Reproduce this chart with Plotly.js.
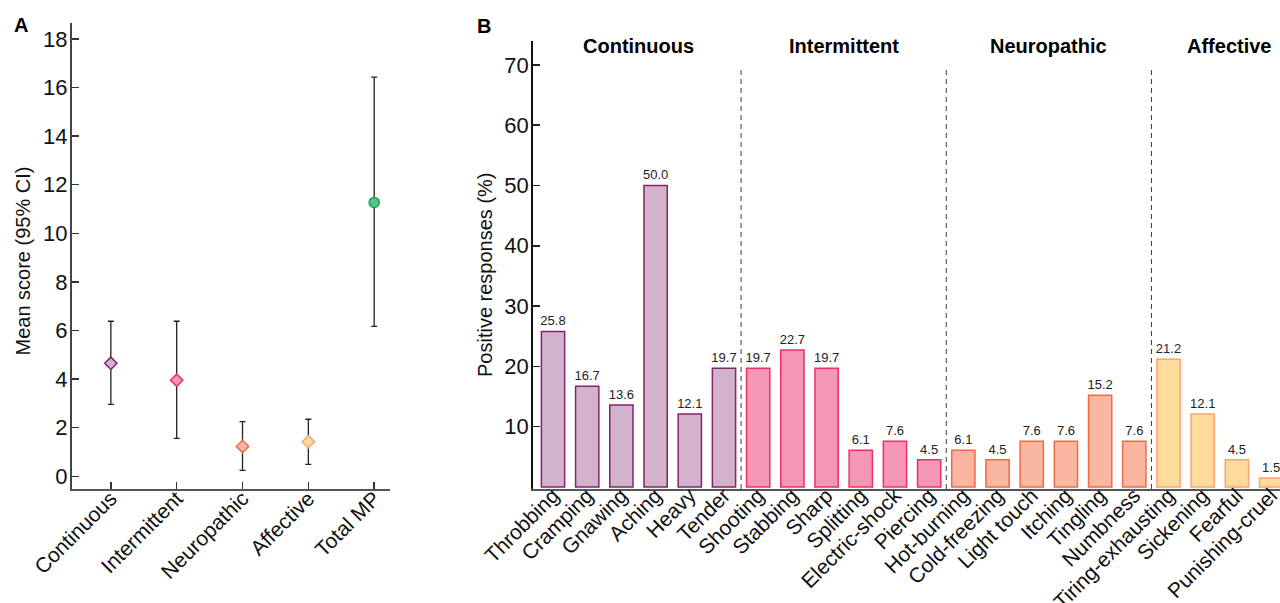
<!DOCTYPE html>
<html>
<head>
<meta charset="utf-8">
<script src="https://cdn.plot.ly/plotly-3.0.1.min.js"></script>
<style>html,body{margin:0;padding:0;background:#fff;}#chart{width:1280px;height:603px;}</style>
</head>
<body>
<div id="chart"></div>
<script>
// Panel A data
const scoreCategories = ["Continuous", "Intermittent", "Neuropathic", "Affective", "Total MP"];
const scoreMeans = [4.65, 3.95, 1.23, 1.42, 11.27];
const scoreUpper = [6.38, 6.38, 2.25, 2.35, 16.42];
const scoreLower = [2.96, 1.56, 0.25, 0.49, 6.17];
const scoreTicks = [0, 2, 4, 6, 8, 10, 12, 14, 16, 18];

// Panel B data
const descriptors = ["Throbbing", "Cramping", "Gnawing", "Aching", "Heavy", "Tender",
  "Shooting", "Stabbing", "Sharp", "Splitting", "Electric-shock", "Piercing",
  "Hot-burning", "Cold-freezing", "Light touch", "Itching", "Tingling", "Numbness",
  "Tiring-exhausting", "Sickening", "Fearful", "Punishing-cruel"];
const descriptorGroup = ["Continuous","Continuous","Continuous","Continuous","Continuous","Continuous",
  "Intermittent","Intermittent","Intermittent","Intermittent","Intermittent","Intermittent",
  "Neuropathic","Neuropathic","Neuropathic","Neuropathic","Neuropathic","Neuropathic",
  "Affective","Affective","Affective","Affective"];
const positiveResponses = [25.8, 16.7, 13.6, 50.0, 12.1, 19.7,
  19.7, 22.7, 19.7, 6.1, 7.6, 4.5,
  6.1, 4.5, 7.6, 7.6, 15.2, 7.6,
  21.2, 12.1, 4.5, 1.5];
const groupNames = ["Continuous", "Intermittent", "Neuropathic", "Affective"];
const responseTicks = [10, 20, 30, 40, 50, 60, 70];

// Styles
const fillColors = {Continuous: "#d3b2cc", Intermittent: "#f497b7", Neuropathic: "#f9b6a0", Affective: "#fedb9c", "Total MP": "#5cc28c"};
const edgeColors = {Continuous: "#82236f", Intermittent: "#ee2f63", Neuropathic: "#f06a48", Affective: "#f9a473", "Total MP": "#1b9e5a"};
const markerSymbols = {Continuous: "diamond", Intermittent: "diamond", Neuropathic: "diamond", Affective: "diamond", "Total MP": "circle"};
const markerSizes = {Continuous: 9.5, Intermittent: 9.5, Neuropathic: 9.5, Affective: 9.5, "Total MP": 10};

const FONT = "Liberation Sans, Arial, sans-serif";

const traceA = {
  type: "scatter", mode: "markers",
  x: scoreCategories, y: scoreMeans,
  xaxis: "x", yaxis: "y",
  error_y: {
    type: "data", symmetric: false,
    array: scoreMeans.map((m, i) => scoreUpper[i] - m),
    arrayminus: scoreMeans.map((m, i) => m - scoreLower[i]),
    color: "#222", thickness: 1.3, width: 3
  },
  marker: {
    opacity: 1,
    symbol: scoreCategories.map(c => markerSymbols[c]),
    size: scoreCategories.map(c => markerSizes[c]),
    color: scoreCategories.map(c => fillColors[c]),
    line: {color: scoreCategories.map(c => edgeColors[c]), width: 1.5}
  },
  hoverinfo: "x+y", showlegend: false
};

const traceB = {
  type: "bar",
  x: descriptors, y: positiveResponses,
  xaxis: "x2", yaxis: "y2",
  width: 0.68,
  marker: {
    color: descriptorGroup.map(g => fillColors[g]),
    line: {color: descriptorGroup.map(g => edgeColors[g]), width: 1.5}
  },
  text: positiveResponses.map(v => v.toFixed(1)),
  textposition: "outside",
  constraintext: "none",
  cliponaxis: true,
  textfont: {family: FONT, size: 13, color: "#222"},
  showlegend: false
};

// group boundaries (between last of one group and first of next)
const shapes = [];
for (let i = 1; i < descriptorGroup.length; i++) {
  if (descriptorGroup[i] !== descriptorGroup[i - 1]) {
    shapes.push({type: "line", xref: "x2", yref: "y2 domain", x0: i - 0.5, x1: i - 0.5, y0: 0, y1: 0.938,
      line: {color: "#3a3a3a", width: 1, dash: "5px,4px"}});
  }
}

const groupCenters = groupNames.map(g => {
  const idx = descriptorGroup.map((d, i) => d === g ? i : -1).filter(i => i >= 0);
  return (idx[0] + idx[idx.length - 1]) / 2;
});
groupCenters[3] = 19.77; // Affective title drawn near plot edge

const annotations = groupNames.map((g, k) => ({
  text: "<b>" + g + "</b>", xref: "x2", yref: "paper", x: groupCenters[k], y: 1 - 46 / 603,
  showarrow: false, font: {family: FONT, size: 20, color: "#000"}, xanchor: "center", yanchor: "middle"
}));
annotations.push({text: "<b>A</b>", xref: "paper", yref: "paper", x: 21 / 1280, y: 1 - 25 / 603,
  showarrow: false, font: {family: FONT, size: 20, color: "#000"}, xanchor: "center", yanchor: "middle"});
annotations.push({text: "<b>B</b>", xref: "paper", yref: "paper", x: 484 / 1280, y: 1 - 26 / 603,
  showarrow: false, font: {family: FONT, size: 20, color: "#000"}, xanchor: "center", yanchor: "middle"});
// y-axis titles
annotations.push({text: "Mean score (95% CI)", xref: "paper", yref: "paper", x: 22 / 1280, y: 1 - 261.5 / 603,
  textangle: -90, showarrow: false, font: {family: FONT, size: 20, color: "#111"}, xanchor: "center", yanchor: "middle"});
annotations.push({text: "Positive responses (%)", xref: "paper", yref: "paper", x: 485 / 1280, y: 1 - 275 / 603,
  textangle: -90, showarrow: false, font: {family: FONT, size: 20, color: "#111"}, xanchor: "center", yanchor: "middle"});

const yTickFont = {family: FONT, size: 22, color: "#111"};
const xTickFont = {family: FONT, size: 21, color: "#111"};

const layout = {
  width: 1280, height: 603,
  margin: {l: 0, r: 0, t: 0, b: 0},
  paper_bgcolor: "#fff", plot_bgcolor: "#fff",
  font: {family: FONT, color: "#111"},
  showlegend: false,
  xaxis: {
    domain: [72 / 1280, 390 / 1280], anchor: "y",
    type: "category", range: [-0.59, 4.24],
    showline: true, linecolor: "#555", linewidth: 2,
    ticks: "inside", ticklen: 7, tickwidth: 1.5, tickcolor: "#333",
    tickangle: -45, tickfont: xTickFont, ticklabelstandoff: -13,
    showgrid: false, zeroline: false
  },
  yaxis: {
    domain: [1 - 489 / 603, 1 - 23 / 603], anchor: "x",
    range: [-0.52, 18.65], tickvals: scoreTicks,
    showline: true, linecolor: "#444", linewidth: 2,
    ticks: "inside", ticklen: 7, tickwidth: 1.5, tickcolor: "#333",
    tickfont: yTickFont, ticklabelstandoff: -2, showgrid: false, zeroline: false
  },
  xaxis2: {
    domain: [532.7 / 1280, 1], anchor: "y2",
    type: "category", range: [-0.594, 21.26],
    showline: true, linecolor: "#555", linewidth: 2,
    ticks: "", tickangle: -45, tickfont: xTickFont, ticklabelstandoff: -16,
    showgrid: false, zeroline: false
  },
  yaxis2: {
    domain: [1 - 489 / 603, 1 - 40.7 / 603], anchor: "x2",
    range: [-0.33, 74], tickvals: responseTicks,
    showline: true, linecolor: "#111", linewidth: 1.5,
    ticks: "inside", ticklen: 7, tickwidth: 1.5, tickcolor: "#222",
    tickfont: yTickFont, ticklabelstandoff: -2, showgrid: false, zeroline: false
  },
  shapes: shapes,
  annotations: annotations
};

Plotly.newPlot("chart", [traceA, traceB], layout, {displayModeBar: false, staticPlot: true});
</script>
</body>
</html>
